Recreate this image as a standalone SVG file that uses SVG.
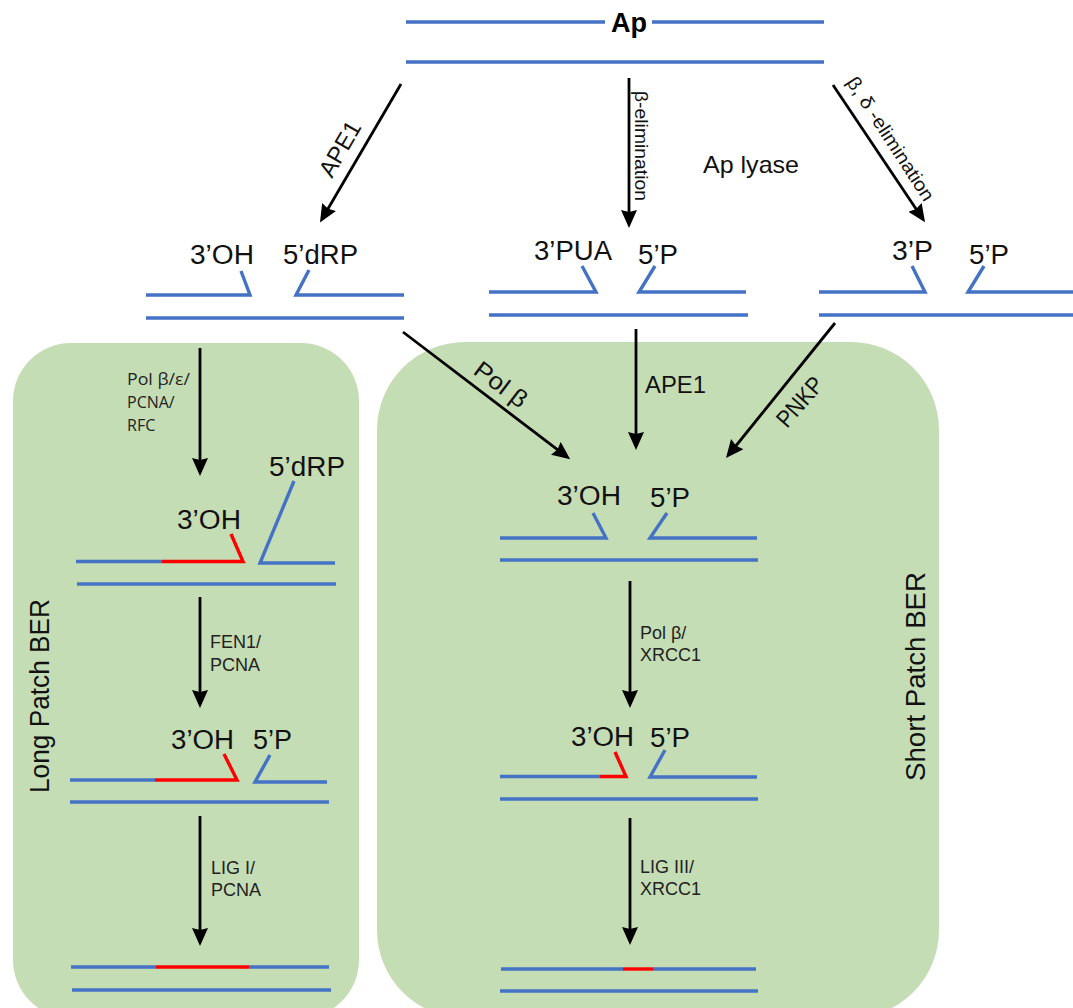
<svg xmlns="http://www.w3.org/2000/svg" width="1073" height="1008" viewBox="0 0 1073 1008">
<style>
text{font-family:"Liberation Sans",Arial,sans-serif;fill:#111}
.s,.r,.a{fill:none;stroke-linecap:butt;stroke-linejoin:miter}
.s{stroke:#4472C4;stroke-width:3.400}
.r{stroke:#FF0000;stroke-width:3.400}
.a{stroke:#000;stroke-width:2.800;marker-end:url(#ah)}
.e{font-size:27px}
.b{font-size:27px}
.m{font-size:24px}
.c{font-family:"Open Sans","Liberation Sans",sans-serif;font-size:16px;fill:#222}
.h{font-size:18px;fill:#222}
.t{font-size:19px;fill:#111}
.p{fill:#C5DDB5}
</style>
<defs>
<marker id="ah" markerUnits="userSpaceOnUse" markerWidth="20" markerHeight="18" refX="14" refY="8" orient="auto"><path d="M0 0L18 8L0 16L2 8Z" fill="#000"/></marker>
</defs>
<g id="panels">
<rect class="p" x="13" y="343" width="346" height="675" rx="58" ry="58"/>
<rect class="p" x="377" y="342" width="562" height="676" rx="88" ry="88"/>
<text class="b" transform="translate(49 793) rotate(-90)" textLength="194" lengthAdjust="spacingAndGlyphs">Long Patch BER</text>
<text class="b" transform="translate(925 781) rotate(-90)" textLength="209" lengthAdjust="spacingAndGlyphs">Short Patch BER</text>
</g>
<g id="connectors">
<path class="a" d="M401 84L322 219"/>
<path class="a" d="M629 78V224"/>
<path class="a" d="M833 85L922.800 219"/>
<path class="a" d="M403 332L567 456.800"/>
<path class="a" d="M636 329V446"/>
<path class="a" d="M835 323L728.500 455"/>
<path class="a" d="M200 348V472"/>
<path class="a" d="M200 597V704"/>
<path class="a" d="M200 816V942"/>
<path class="a" d="M630 581V704"/>
<path class="a" d="M630 818V941"/>
<text class="m" transform="translate(332 179) rotate(-60)" textLength="60" lengthAdjust="spacingAndGlyphs">APE1</text>
<text class="t" transform="translate(635 91) rotate(90)" textLength="110" lengthAdjust="spacingAndGlyphs">β-elimination</text>
<text class="t" transform="translate(846 82) rotate(57)" textLength="144" lengthAdjust="spacingAndGlyphs">β, δ -elimination</text>
<text class="m" x="703" y="173" textLength="96" lengthAdjust="spacingAndGlyphs">Ap lyase</text>
<text class="m" transform="translate(472 373) rotate(37)" textLength="60" lengthAdjust="spacingAndGlyphs">Pol β</text>
<text class="m" x="645" y="393" textLength="61" lengthAdjust="spacingAndGlyphs">APE1</text>
<text class="m" transform="translate(787 429) rotate(-49)" textLength="58" lengthAdjust="spacingAndGlyphs">PNKP</text>
<text class="c" x="127" y="385" textLength="63" lengthAdjust="spacingAndGlyphs">Pol β/ε/</text>
<text class="c" x="127" y="408">PCNA/</text>
<text class="c" x="127" y="431">RFC</text>
<text class="h" x="210" y="648">FEN1/</text>
<text class="h" x="210" y="671">PCNA</text>
<text class="h" x="211" y="874">LIG I/</text>
<text class="h" x="211" y="896">PCNA</text>
<text class="h" x="640" y="639">Pol β/</text>
<text class="h" x="640" y="661">XRCC1</text>
<text class="h" x="640" y="873">LIG III/</text>
<text class="h" x="640" y="895">XRCC1</text>
</g>
<g id="node-ap">
<path class="s" d="M406 22H605M652 22H824M406 62H824"/>
<text x="629" y="32" text-anchor="middle" style="font-size:27px;font-weight:bold;fill:#000">Ap</text>
</g>
<g id="node-ape1-product">
<path class="s" d="M146 295H250L241 271M404 295H296L309 270M146 318H404"/>
<text class="e" x="190" y="264" textLength="64" lengthAdjust="spacingAndGlyphs">3’OH</text>
<text class="e" x="283" y="264" textLength="75" lengthAdjust="spacingAndGlyphs">5’dRP</text>
</g>
<g id="node-pua-product">
<path class="s" d="M489 292H596L582 266M746 292H639L655 266M489 315H748"/>
<text class="e" x="534" y="260" textLength="78" lengthAdjust="spacingAndGlyphs">3’PUA</text>
<text class="e" x="638" y="264" textLength="40" lengthAdjust="spacingAndGlyphs">5’P</text>
</g>
<g id="node-3p-product">
<path class="s" d="M819 292H925L912 266M1073 292H968L984 266M819 315H1073"/>
<text class="e" x="892" y="260" textLength="41" lengthAdjust="spacingAndGlyphs">3’P</text>
<text class="e" x="969" y="264" textLength="40" lengthAdjust="spacingAndGlyphs">5’P</text>
</g>
<g id="node-long-1">
<path class="s" d="M76 561.500H162M335 563H260L294 481M77 584H336"/>
<path class="r" d="M162 561.500H243L231 534"/>
<text class="e" x="177" y="529" textLength="64" lengthAdjust="spacingAndGlyphs">3’OH</text>
<text class="e" x="269" y="476" textLength="76" lengthAdjust="spacingAndGlyphs">5’dRP</text>
</g>
<g id="node-long-2">
<path class="s" d="M70 780H155M327 782H255L270 755M70 802H329"/>
<path class="r" d="M155 780H237L224 754"/>
<text class="e" x="171" y="749" textLength="63" lengthAdjust="spacingAndGlyphs">3’OH</text>
<text class="e" x="253" y="749" textLength="39" lengthAdjust="spacingAndGlyphs">5’P</text>
</g>
<g id="node-long-3">
<path class="s" d="M71 967H156M249 967H329M72 990H331"/>
<path class="r" d="M156 967H249"/>
</g>
<g id="node-short-1">
<path class="s" d="M500 538H606L593 513M757 538H650L667 513M500 560H758"/>
<text class="e" x="557" y="505" textLength="64" lengthAdjust="spacingAndGlyphs">3’OH</text>
<text class="e" x="650" y="507" textLength="40" lengthAdjust="spacingAndGlyphs">5’P</text>
</g>
<g id="node-short-2">
<path class="s" d="M500 776.500H600M757 777H650L665 750M500 799H758"/>
<path class="r" d="M600 776.500H626L615 752"/>
<text class="e" x="571" y="746" textLength="63" lengthAdjust="spacingAndGlyphs">3’OH</text>
<text class="e" x="650" y="747" textLength="40" lengthAdjust="spacingAndGlyphs">5’P</text>
</g>
<g id="node-short-3">
<path class="s" d="M501 969H623M653 969H756M500 991H758"/>
<path class="r" d="M623 969H653"/>
</g>
</svg>
